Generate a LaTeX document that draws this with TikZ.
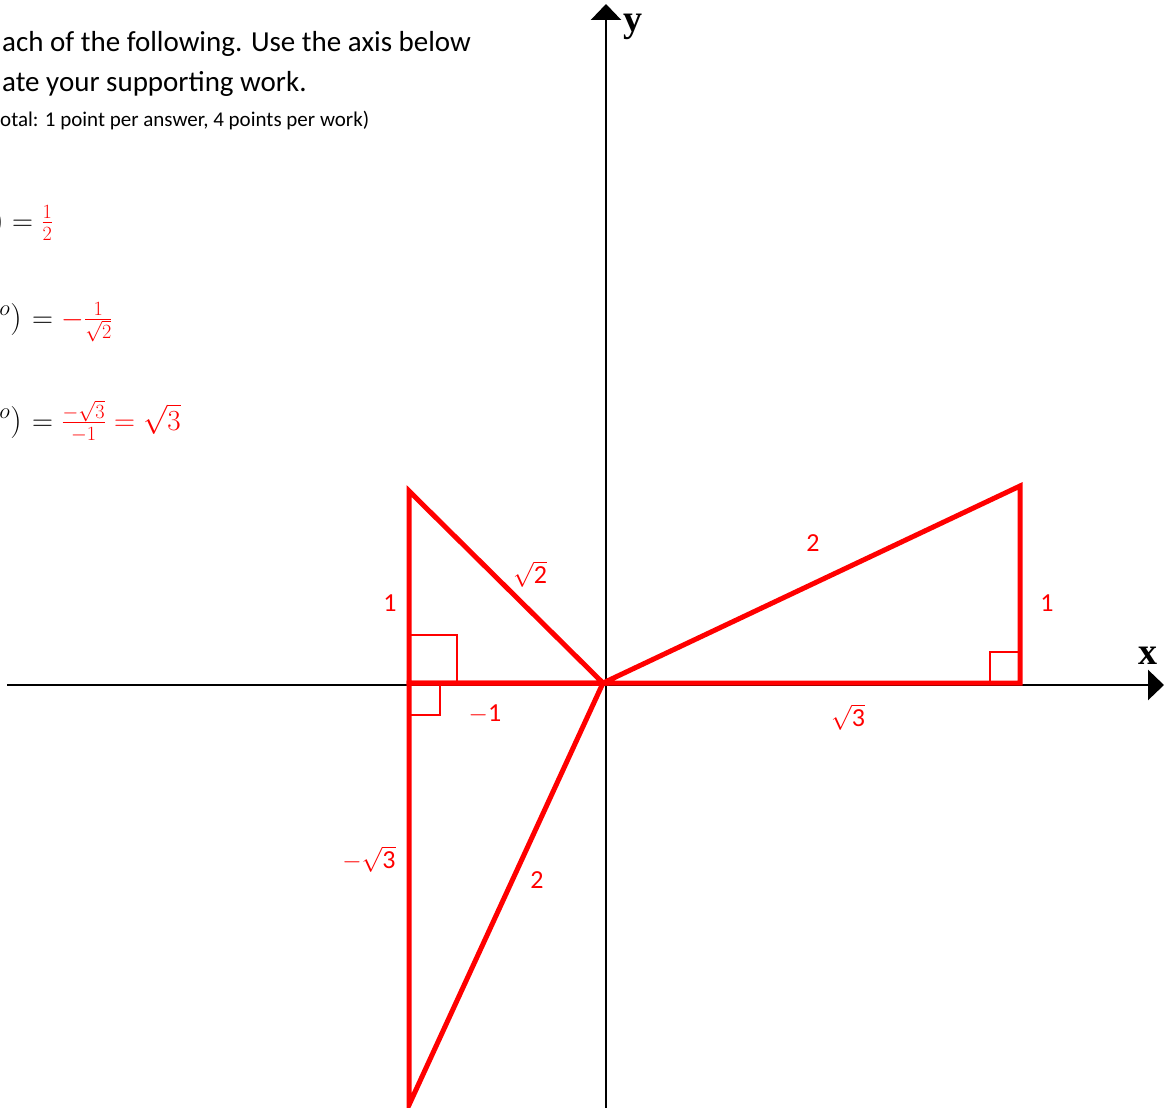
\documentclass[tikz,border=0pt]{standalone}
\usepackage{fontspec}
\setmainfont{Carlito}
\newfontfamily\timesfont{Liberation Serif}
\usetikzlibrary{arrows.meta}
\begin{document}
\begin{tikzpicture}[x=1pt,y=-1pt,
  axis/.style={line width=2.6pt,black},
  tri/.style={line width=5pt,red},
  sq/.style={line width=1.8pt,red},
  lbl/.style={red,font=\fontsize{26}{30}\selectfont,inner sep=0pt},
  big/.style={font=\fontsize{29}{33}\selectfont,inner sep=0pt,anchor=base west},
  eq/.style={font=\fontsize{26}{30}\selectfont,inner sep=0pt,scale=1.17},
  axlbl/.style={font=\timesfont\bfseries\fontsize{38}{40}\selectfont,inner sep=0pt}]
\useasboundingbox (0,0) rectangle (1165,1108);
\clip (0,0) rectangle (1165,1108);
% text
\node[big] (t1) at (2,52) {ach of the following. Use the axis below};
\node[big] (t2) at (2,92) {ate your supporting work.};
\node[font=\fontsize{21}{24}\selectfont,inner sep=0pt,anchor=base west] (t3) at (0,126) {otal: 1 point per answer, 4 points per work)};
% equations
\node[eq,anchor=base east,scale=1.1] (e1l) at (4,230) {$)$};
\node[eq,anchor=base west] (e1r) at (12,230) {$=\color{red}\frac{1}{2}$};
\node[eq,anchor=base east,scale=1.1] (e2l) at (22,327) {$^{o})$};
\node[eq,anchor=base west] (e2r) at (32,327) {$=\color{red}-\frac{1}{\sqrt{2}}$};
\node[eq,anchor=base east,scale=1.1] (e3l) at (22,430) {$^{o})$};
\node[eq,anchor=base west] (e3r) at (32,430) {$=\color{red}\frac{-\sqrt{3}}{-1}=\sqrt{3}$};
% axes
\coordinate (xl) at (7,685);
\coordinate (xr) at (1164,685);
\coordinate (yb) at (606,1108);
\coordinate (yt) at (606,4);
\draw[axis,-{Triangle[length=16pt,width=30pt]}] (xl) -- (xr);
\draw[axis,-{Triangle[length=16pt,width=30pt]}] (yb) -- (yt);
\node[axlbl] (xlab) at (1148,656) {x};
\node[axlbl] (ylab) at (633,27) {y};
% points
\coordinate (O) at (603,683);
\coordinate (A) at (1020,683);
\coordinate (B) at (1020,486);
\coordinate (C) at (409,683);
\coordinate (D) at (409,491);
\coordinate (E) at (409,1105);
% right-angle marks
\draw[sq] (990,683) rectangle (1020,652);
\draw[sq] (409,683) rectangle (457,635);
\draw[sq] (409,683) rectangle (440,715);
% triangles
\draw[tri] (O) -- (A) -- (B) -- cycle;
\draw[tri] (O) -- (C) -- (D) -- cycle;
\draw[tri] (O) -- (C) -- (E) -- cycle;
% labels
\node[lbl] (l1) at (813,543) {2};
\node[lbl] (l2) at (1047,603) {1};
\node[lbl] (l3) at (848,717) {$\sqrt{\mbox{3}}$};
\node[lbl] (l4) at (530,574) {$\sqrt{\mbox{2}}$};
\node[lbl] (l5) at (390,603) {1};
\node[lbl] (l6) at (485,714) {$-$1};
\node[lbl] (l7) at (369,859) {$-\sqrt{\mbox{3}}$};
\node[lbl] (l8) at (537,880) {2};
\end{tikzpicture}
\end{document}
